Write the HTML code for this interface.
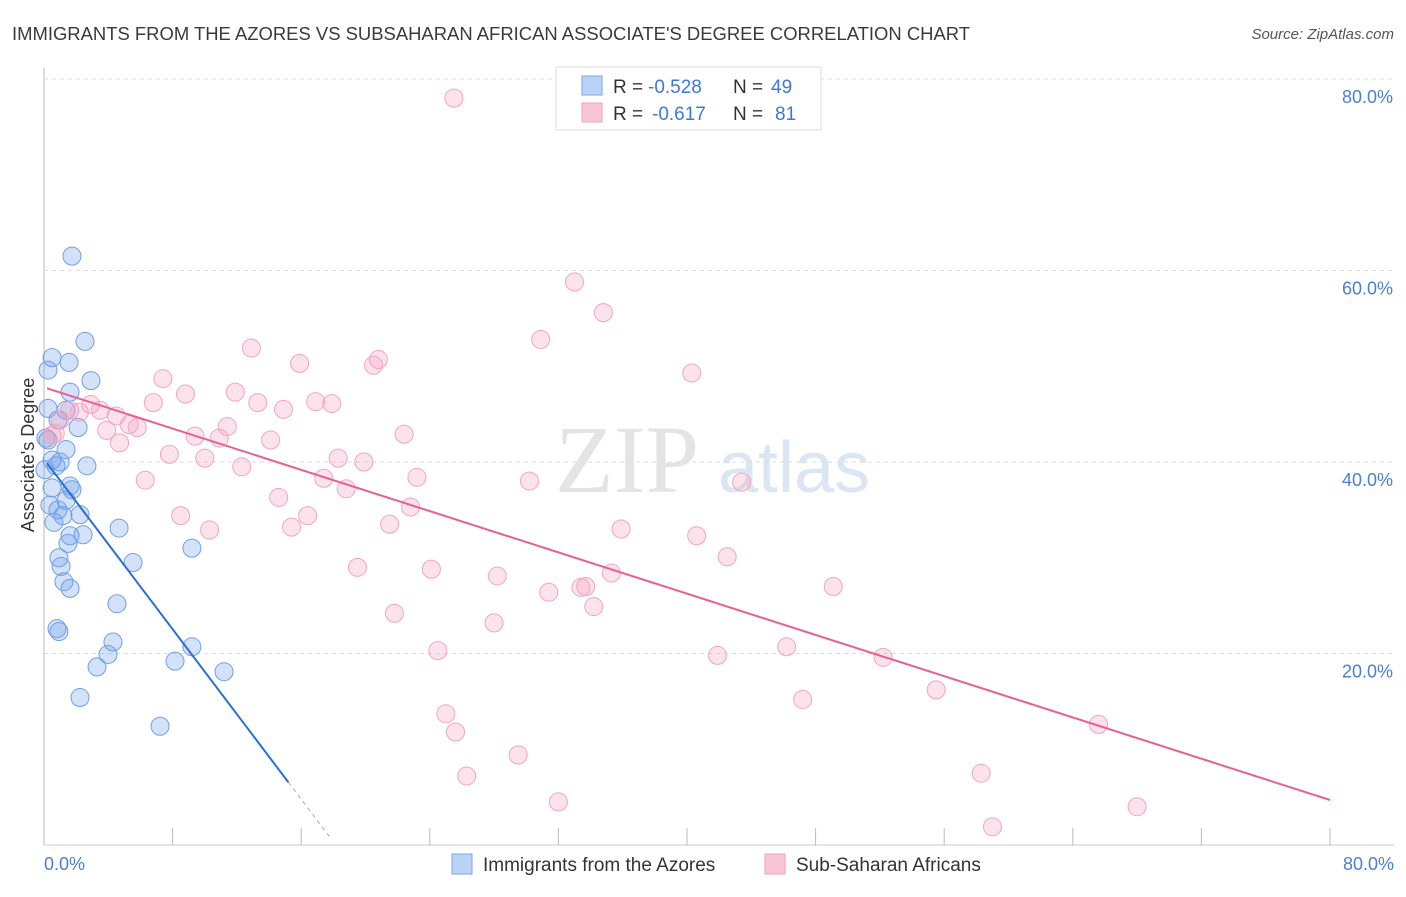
<!DOCTYPE html>
<html><head><meta charset="utf-8"><style>
body{margin:0;background:#fff;font-family:"Liberation Sans",sans-serif}
</style></head><body>
<svg id="c" width="1406" height="892" xmlns="http://www.w3.org/2000/svg" font-family="Liberation Sans, sans-serif">
<text x="12" y="40" font-size="18" fill="#3a3a3a" textLength="958" lengthAdjust="spacingAndGlyphs">IMMIGRANTS FROM THE AZORES VS SUBSAHARAN AFRICAN ASSOCIATE'S DEGREE CORRELATION CHART</text>
<text x="1394" y="39" font-size="15" fill="#555" text-anchor="end" font-style="italic">Source: ZipAtlas.com</text>
<text x="555" y="492" font-size="96" fill="#e4e4e4" font-family="Liberation Serif, serif">ZIP</text>
<text x="718" y="492" font-size="72" fill="#dbe6f4">atlas</text>
<g id="grid"></g>
<g id="pts"></g>
<g id="lines"></g>
<text transform="translate(34,455) rotate(-90)" font-size="18" fill="#333" text-anchor="middle">Associate's Degree</text>
<text x="44" y="870" font-size="18" fill="#4a7fd4">0.0%</text>
<text x="1394" y="870" font-size="18" fill="#4a7fd4" text-anchor="end">80.0%</text>
<g>
<rect x="556" y="67" width="265" height="63" fill="#fff" stroke="#ddd"/>
<rect x="582" y="76" width="20" height="19" fill="#b9d2f5" stroke="#7aa6e6"/>
<rect x="582" y="103" width="20" height="19" fill="#f9c6d6" stroke="#f0a0b8"/>
<text x="613" y="93" font-size="19" fill="#333">R =</text>
<text x="648" y="93" font-size="19" fill="#3b78d8">-0.528</text>
<text x="733" y="93" font-size="19" fill="#333">N =</text>
<text x="771" y="93" font-size="19" fill="#3b78d8">49</text>
<text x="613" y="120" font-size="19" fill="#333">R =</text>
<text x="652" y="120" font-size="19" fill="#3b78d8">-0.617</text>
<text x="733" y="120" font-size="19" fill="#333">N =</text>
<text x="775" y="120" font-size="19" fill="#3b78d8">81</text>
</g>
<g><rect x="452" y="854" width="20" height="20" fill="#b9d2f5" stroke="#7aa6e6"/><text x="483" y="871" font-size="19" fill="#333">Immigrants from the Azores</text></g>
<g><rect x="765" y="854" width="20" height="20" fill="#f9c6d6" stroke="#f0a0b8"/><text x="796" y="871" font-size="19" fill="#333">Sub-Saharan Africans</text></g>
</svg>
<script>
const yTicks=[20,40,60,80];
const yTickLabels=["20.0%","40.0%","60.0%","80.0%"];
const xTicks=[0,8,16,24,32,40,48,56,64,72,80];
const blueX=[1.74,2.55,0.5,1.56,0.25,2.92,1.62,0.25,1.37,0.87,2.12,0.12,1.37,0.5,0.75,2.67,0.5,1.62,1.74,1.37,0.87,1.18,2.24,4.67,0.62,1.62,2.43,1.49,0.93,1.06,1.24,1.62,5.54,9.2,4.54,0.81,0.93,4.29,3.98,3.3,8.15,9.2,11.2,2.24,7.22,0.37,0.06,0.25,1.0];
const blueY=[61.5,52.6,50.9,50.4,49.6,48.5,47.3,45.6,45.4,44.4,43.6,42.5,41.3,40.2,39.6,39.6,37.3,37.5,37.1,36.0,35.0,34.4,34.5,33.1,33.7,32.3,32.4,31.5,30.0,29.1,27.5,26.8,29.5,31.0,25.2,22.6,22.3,21.2,19.9,18.6,19.2,20.7,18.1,15.4,12.4,35.5,39.2,42.3,40.0];
const pinkX=[25.5,33.0,34.8,30.9,12.9,20.8,20.5,15.9,7.4,40.3,8.8,11.9,6.8,13.3,16.9,17.9,14.9,2.9,1.6,2.2,3.5,4.5,1.0,5.3,3.9,5.8,11.4,9.4,10.9,22.4,14.1,4.7,0.7,7.8,18.3,10.0,19.9,12.3,6.3,17.4,23.2,30.2,18.8,43.4,14.6,22.8,8.5,16.4,10.3,15.4,21.5,35.9,40.6,42.5,19.5,24.1,28.2,33.7,33.4,31.4,35.3,49.1,34.2,21.8,28.0,24.5,41.9,46.2,52.2,55.5,47.2,25.0,25.6,65.6,26.3,29.5,32.0,58.3,68.0,59.0,0.5];
const pinkY=[78.0,58.8,55.6,52.8,51.9,50.7,50.1,50.3,48.7,49.3,47.1,47.3,46.2,46.2,46.3,46.1,45.5,46.0,45.4,45.2,45.4,44.8,44.4,43.9,43.3,43.6,43.7,42.7,42.5,42.9,42.3,42.0,43.0,40.8,40.4,40.4,40.0,39.5,38.1,38.3,38.4,38.0,37.2,37.9,36.3,35.3,34.4,34.4,32.9,33.2,33.5,33.0,32.3,30.1,29.0,28.8,28.1,27.0,26.9,26.4,28.4,27.0,24.9,24.2,23.2,20.3,19.8,20.7,19.6,16.2,15.2,13.7,11.8,12.6,7.2,9.4,4.5,7.5,4.0,1.9,42.8];
const blueLine=[[0.19,40.3-2.22*0.19],[15.2,40.3-2.22*15.2]];
const blueDash=[[15.2,40.3-2.22*15.2],[17.8,40.3-2.22*17.8]];
const pinkLine=[[0.19,47.7],[80,4.7]];
const X=v=>44+v*16.075, Y=v=>845-v*9.575;
const NS="http://www.w3.org/2000/svg";
function mk(t,a,p){const e=document.createElementNS(NS,t);for(const k in a)e.setAttribute(k,a[k]);p.appendChild(e);return e;}
const g=document.getElementById('grid');
let ax=mk('line',{x1:44,y1:68,x2:44,y2:845,stroke:'#bbb'},g);


let bx=mk('line',{x1:44,y1:845,x2:1394,y2:845,stroke:'#ccc'},g);


yTicks.forEach((t,i)=>{
 const l=mk('line',{x1:44,x2:1394,y1:Y(t),y2:Y(t),stroke:'#ddd','stroke-dasharray':'4,4'},g);
 
 
 const tx=mk('text',{x:1393,y:Y(t)+24,'font-size':18,fill:'#4a7fd4','text-anchor':'end'},g);
 tx.textContent=yTickLabels[i];
 
 
});
xTicks.forEach(t=>{
 const l=mk('line',{x1:X(t),x2:X(t),y1:828,y2:845,stroke:'#bbb'},g);
 
 
});
const p=document.getElementById('pts');
blueX.forEach((x,i)=>{
 const c=mk('circle',{cx:X(x),cy:Y(blueY[i]),r:9,fill:'rgba(110,160,235,0.3)',stroke:'#6f9fe6','stroke-width':1},p);
 
 
});
pinkX.forEach((x,i)=>{
 const c=mk('circle',{cx:X(x),cy:Y(pinkY[i]),r:9,fill:'rgba(245,160,190,0.3)',stroke:'#f0a6bd','stroke-width':1},p);
 
 
});
const L=document.getElementById('lines');
let b=mk('line',{x1:X(blueLine[0][0]),y1:Y(blueLine[0][1]),x2:X(blueLine[1][0]),y2:Y(blueLine[1][1]),stroke:'#2a6fd6','stroke-width':2},L);


let bd=mk('line',{x1:X(blueDash[0][0]),y1:Y(blueDash[0][1]),x2:X(blueDash[1][0]),y2:Y(blueDash[1][1]),stroke:'#aaa','stroke-width':1,'stroke-dasharray':'4,4'},L);


let pl=mk('line',{x1:X(pinkLine[0][0]),y1:Y(pinkLine[0][1]),x2:X(pinkLine[1][0]),y2:Y(pinkLine[1][1]),stroke:'#e8608e','stroke-width':2},L);


</script>
</body></html>
